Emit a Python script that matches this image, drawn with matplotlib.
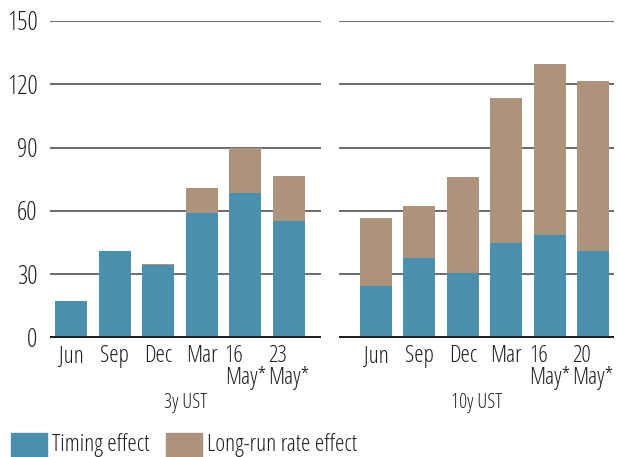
import matplotlib
matplotlib.use("Agg")
import matplotlib.pyplot as plt
from matplotlib.patches import Rectangle
import numpy as np

plt.rcParams['font.family'] = ['Open Sans', 'DejaVu Sans']
plt.rcParams['font.stretch'] = 'condensed'

labels_3y = ["Jun", "Sep", "Dec", "Mar", "16\nMay*", "23\nMay*"]
timing_3y = [17.3, 41, 34.5, 58.8, 68.6, 55.3]
longrun_3y = [0, 0, 0.5, 12.2, 21.4, 21.3]

labels_10y = ["Jun", "Sep", "Dec", "Mar", "16\nMay*", "20\nMay*"]
timing_10y = [24.4, 37.7, 30.6, 44.8, 48.6, 41]
longrun_10y = [32.3, 24.7, 45.5, 68.9, 81.2, 80.7]

yticks = [0, 30, 60, 90, 120, 150]
panel_titles = ["3y UST", "10y UST"]
legend_labels = ["Timing effect", "Long-run rate effect"]

C_TIMING = "#4a8fae"
C_LONG = "#ad937c"

W, H = 619, 457
fig = plt.figure(figsize=(W / 100, H / 100), dpi=100)

def frac_rect(x0, x1, ybot, ytop):
    return [x0 / W, (H - ybot) / H, (x1 - x0) / W, (ybot - ytop) / H]

ax1 = fig.add_axes(frac_rect(50, 321, 337.5, 21))
ax2 = fig.add_axes(frac_rect(339, 614, 337.5, 21))

panels = [
    (ax1, labels_3y, timing_3y, longrun_3y, (-0.483, 5.736), True),
    (ax2, labels_10y, timing_10y, longrun_10y, (-0.85, 5.48), False),
]

for i, (ax, labs, tim, lr, xl, show_y) in enumerate(panels):
    x = np.arange(len(labs))
    ax.bar(x, tim, width=0.736, color=C_TIMING, zorder=2)
    ax.bar(x, lr, bottom=tim, width=0.736, color=C_LONG, zorder=2)
    ax.set_xlim(*xl)
    ax.set_ylim(0, 150)
    for t in yticks[1:]:
        ax.axhline(t, color="#444444", lw=1.1, zorder=1)
    ax.axhline(0, color="#231f20", lw=3.6, zorder=3)
    for s in ax.spines.values():
        s.set_visible(False)
    ax.set_xticks(x)
    ax.set_xticklabels(labs, fontsize=17, color="#231f20", multialignment="left",
                       linespacing=0.85)
    ax.tick_params(axis="x", length=0, pad=5)
    ax.set_yticks(yticks)
    if show_y:
        ax.set_yticklabels([str(t) for t in yticks], fontsize=18.5, color="#231f20")
    else:
        ax.set_yticklabels([])
    ax.tick_params(axis="y", length=0, pad=9)
    ax.patch.set_alpha(0)
    ax.text(0.5, -0.207, panel_titles[i], transform=ax.transAxes, ha="center",
            va="center", fontsize=14.5, color="#231f20")

# legend
for (x0, lab, col) in [(11, legend_labels[0], C_TIMING), (166, legend_labels[1], C_LONG)]:
    fig.patches.append(Rectangle((x0 / W, 0), 36 / W, 24 / H, transform=fig.transFigure,
                                 color=col, zorder=5))
    fig.text((x0 + 41) / W, 12 / H, lab, fontsize=17, color="#231f20", va="center", ha="left")

fig.savefig("out.png", dpi=100)
